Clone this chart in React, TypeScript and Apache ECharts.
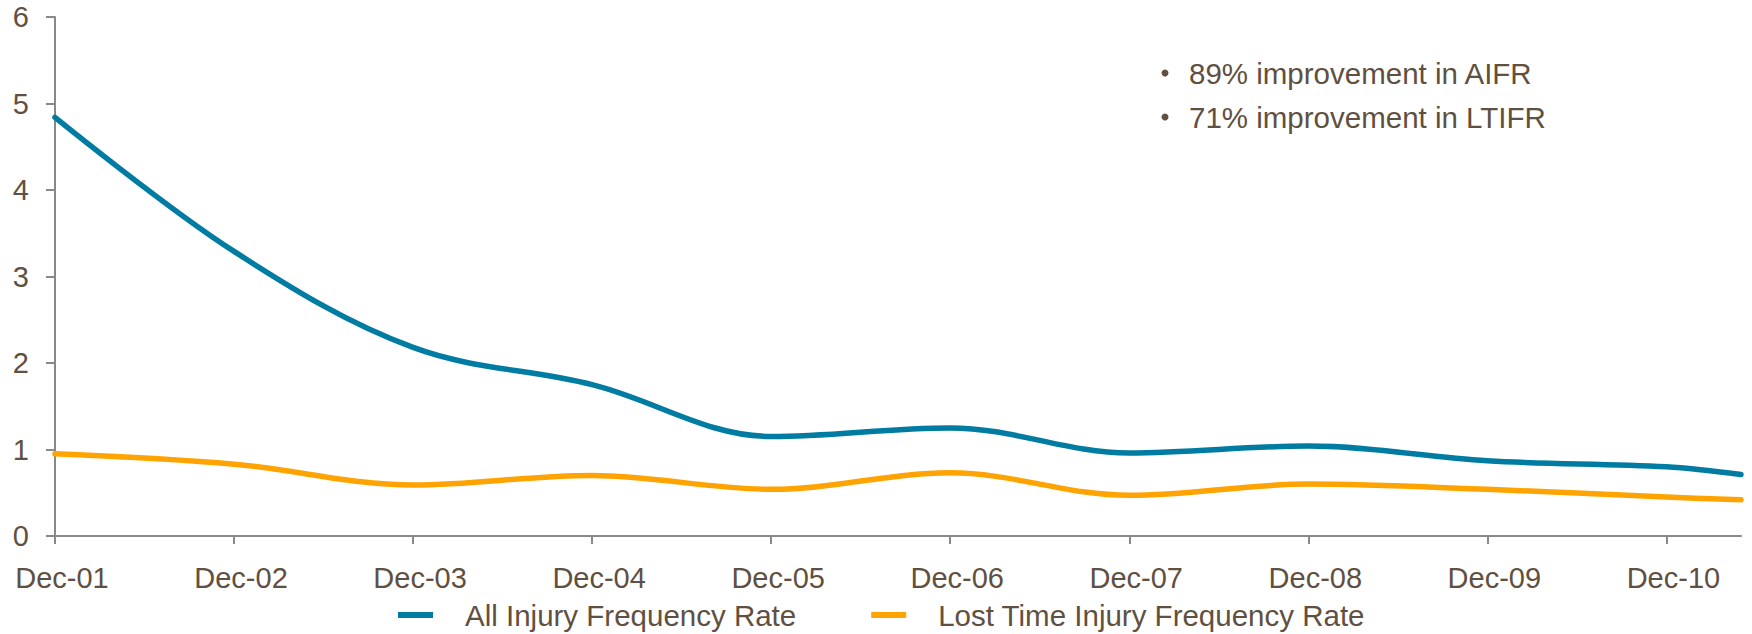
import React, { useEffect, useRef } from "react";
import * as echarts from "echarts";

// Year-end tick labels along the x axis
const tickLabels = [
  "Dec-01", "Dec-02", "Dec-03", "Dec-04", "Dec-05",
  "Dec-06", "Dec-07", "Dec-08", "Dec-09", "Dec-10",
];

// Reporting points, in months after Dec-01 (last one is the latest YTD figure)
const periodMonths = [0, 12, 24, 36, 48, 60, 72, 84, 96, 108, 113];

// All Injury Frequency Rate
const aifr = [4.84, 3.29, 2.18, 1.75, 1.15, 1.25, 0.96, 1.04, 0.87, 0.8, 0.71];

// Lost Time Injury Frequency Rate
const ltifr = [0.95, 0.83, 0.59, 0.7, 0.54, 0.73, 0.47, 0.6, 0.54, 0.45, 0.42];

const yTicks = [0, 1, 2, 3, 4, 5, 6];

const notes = ["89% improvement in AIFR", "71% improvement in LTIFR"];

const TEXT = "#5f5041";
const AXIS = "#898989";
const BLUE = "#007ca3";
const ORANGE = "#ffa300";
const FONT = "Liberation Sans, Arial, sans-serif";
const FS = 29;
const FS_TEXT = 29.5;

export default function App() {
  const ref = useRef<HTMLDivElement>(null);

  useEffect(() => {
    if (!ref.current) return;
    const chart = echarts.init(ref.current, null, { renderer: "svg" });

    const toYears = (m: number) => m / 12;
    const xs = periodMonths.map(toYears);
    const tickPositions = tickLabels.map((_, i) => i);

    chart.setOption({
      animation: false,
      textStyle: { fontFamily: FONT, color: TEXT },
      grid: { left: 55, right: 11, top: 17, bottom: 98, containLabel: false },
      xAxis: {
        type: "value",
        min: 0,
        max: xs[xs.length - 1],
        interval: 1,
        splitLine: { show: false },
        axisLine: { lineStyle: { color: AXIS, width: 2 } },
        axisTick: {
          show: true,
          length: 8,
          lineStyle: { color: AXIS, width: 2 },
          customValues: tickPositions,
        },
        axisLabel: {
          customValues: tickPositions,
          formatter: (v: number) => tickLabels[Math.round(v)] ?? "",
          color: TEXT,
          fontSize: FS,
          fontFamily: FONT,
          margin: 27,
          padding: [0, 0, 0, 14],
        },
      },
      yAxis: {
        type: "value",
        min: 0,
        max: 6,
        interval: 1,
        splitLine: { show: false },
        axisLine: { show: true, lineStyle: { color: AXIS, width: 2 } },
        axisTick: { show: true, length: 9, lineStyle: { color: AXIS, width: 2 } },
        axisLabel: {
          color: TEXT,
          fontSize: FS,
          fontFamily: FONT,
          margin: 26,
          customValues: yTicks,
        },
      },
      legend: {
        left: 393,
        top: 595,
        itemWidth: 35,
        itemHeight: 6,
        itemGap: 75,
        icon: "rect",
        textStyle: {
          color: TEXT,
          fontSize: FS_TEXT,
          fontFamily: FONT,
          padding: [0, 0, 0, 27],
        },
        data: ["All Injury Frequency Rate", "Lost Time Injury Frequency Rate"],
      },
      series: [
        {
          name: "All Injury Frequency Rate",
          type: "line",
          smooth: 0.35,
          showSymbol: false,
          symbol: "none",
          color: BLUE,
          lineStyle: { color: BLUE, width: 5.5, cap: "round", join: "round" },
          data: xs.map((x, i) => [x, aifr[i]]),
        },
        {
          name: "Lost Time Injury Frequency Rate",
          type: "line",
          smooth: 0.35,
          showSymbol: false,
          symbol: "none",
          color: ORANGE,
          lineStyle: { color: ORANGE, width: 5.5, cap: "round", join: "round" },
          data: xs.map((x, i) => [x, ltifr[i]]),
        },
      ],
      graphic: notes.flatMap((note, i) => [
        {
          type: "circle",
          shape: { cx: 1165, cy: 73 + i * 44, r: 3.5 },
          style: { fill: TEXT },
        },
        {
          type: "text",
          x: 1189,
          y: 73 + i * 44,
          style: {
            text: note,
            fill: TEXT,
            font: `${FS_TEXT}px ${FONT}`,
            verticalAlign: "middle",
          },
        },
      ]),
    });

    return () => chart.dispose();
  }, []);

  return (
    <div
      ref={ref}
      style={{ position: "absolute", left: 0, top: 0, width: 1752, height: 634 }}
    />
  );
}
